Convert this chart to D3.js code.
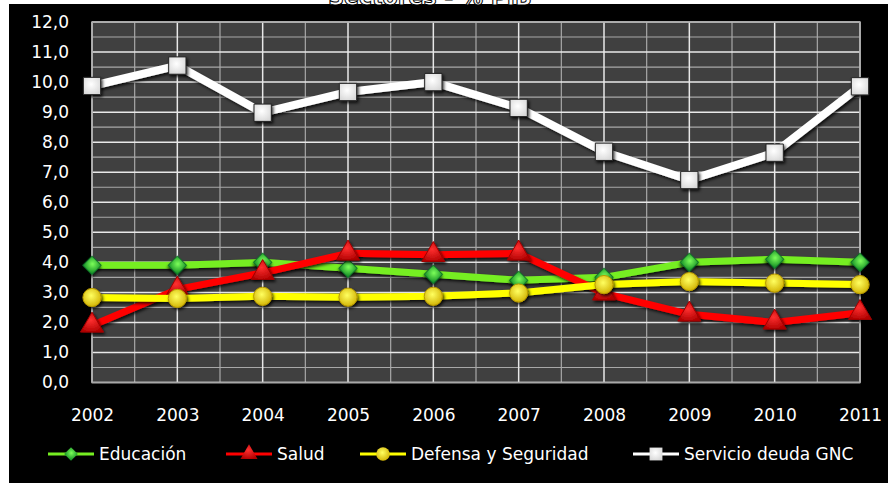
<!DOCTYPE html>
<html>
<head>
<meta charset="utf-8">
<script src="https://cdn.jsdelivr.net/npm/d3@7"></script>
<style>
  body { margin: 0; background: #fff; }
  svg text { font-family: "DejaVu Sans", sans-serif; }
</style>
</head>
<body>
<script>
var width = 888,
    height = 483;

var years = ["2002", "2003", "2004", "2005", "2006", "2007", "2008", "2009", "2010", "2011"];
var educacion = [3.9, 3.9, 4.0, 3.8, 3.6, 3.4, 3.5, 4.0, 4.1, 4.0];
var salud = [1.9, 3.1, 3.65, 4.3, 4.25, 4.3, 2.97, 2.27, 2.0, 2.32];
var defensa = [2.83, 2.8, 2.87, 2.84, 2.87, 2.98, 3.26, 3.36, 3.31, 3.26];
var servicio = [9.87, 10.55, 8.98, 9.67, 10.0, 9.14, 7.68, 6.74, 7.65, 9.86];
var yTicks = [0, 1, 2, 3, 4, 5, 6, 7, 8, 9, 10, 11, 12];

var series = [
    { name: "Educación", values: educacion, color: "#76ee22", shape: "diamond" },
    { name: "Salud", values: salud, color: "#ff0000", shape: "triangle" },
    { name: "Defensa y Seguridad", values: defensa, color: "#ffff00", shape: "circle" },
    { name: "Servicio deuda GNC", values: servicio, color: "#ffffff", shape: "square" }
];

var margin = { left: 92, right: 28, top: 22, bottom: 100 };

var x = d3.scalePoint()
    .domain(years)
    .range([margin.left, width - margin.right]);

var y = d3.scaleLinear()
    .domain([0, 12])
    .range([height - margin.bottom - 0.5, margin.top]);

var fmt = function (d) { return d3.format(".1f")(d).replace(".", ","); };

var svg = d3.select("body").append("svg")
    .attr("width", width)
    .attr("height", height);

var defs = svg.append("defs");

var shadow = defs.append("filter").attr("id", "shadow")
    .attr("x", "-50%").attr("y", "-50%").attr("width", "200%").attr("height", "200%");
shadow.append("feDropShadow")
    .attr("dx", 1.5).attr("dy", 2).attr("stdDeviation", 1.5)
    .attr("flood-color", "#000").attr("flood-opacity", 0.8);

// marker gradients
var grads = {
    diamond: ["#7dff5a", "#1e9a2a"],
    triangle: ["#ff3030", "#b00000"],
    circle: ["#ffff60", "#d0b000"],
    square: ["#ffffff", "#d8d8d8"]
};
Object.keys(grads).forEach(function (k) {
    var g = defs.append("radialGradient").attr("id", "g-" + k)
        .attr("cx", "45%").attr("cy", "40%").attr("r", "65%");
    g.append("stop").attr("offset", "0%").attr("stop-color", grads[k][0]);
    g.append("stop").attr("offset", "100%").attr("stop-color", grads[k][1]);
});

// background
svg.append("rect")
    .attr("x", 9).attr("y", 4)
    .attr("width", width - 9).attr("height", height - 4)
    .attr("fill", "#000");

// title, cut off at the top as in the source picture
svg.append("text")
    .attr("x", 430).attr("y", 5)
    .attr("text-anchor", "middle")
    .attr("font-size", 22)
    .attr("font-weight", "bold")
    .attr("fill", "#fff")
    .attr("stroke", "#000")
    .attr("stroke-width", 1)
    .text("Sectores - % PIB");

// plot area
svg.append("rect")
    .attr("x", margin.left).attr("y", margin.top)
    .attr("width", width - margin.left - margin.right)
    .attr("height", y(0) - margin.top)
    .attr("fill", "#404040");

var grid = svg.append("g");

// minor horizontal gridlines
grid.selectAll(".hminor")
    .data(d3.range(0.5, 12, 1))
    .enter().append("line")
    .attr("x1", margin.left).attr("x2", width - margin.right)
    .attr("y1", function (d) { return y(d); })
    .attr("y2", function (d) { return y(d); })
    .attr("stroke", "#a8a8a8").attr("stroke-width", 1.2);

// minor vertical gridlines
var step = x.step();
grid.selectAll(".vminor")
    .data(years.slice(1))
    .enter().append("line")
    .attr("x1", function (d) { return x(d) - step / 2; })
    .attr("x2", function (d) { return x(d) - step / 2; })
    .attr("y1", margin.top).attr("y2", y(0))
    .attr("stroke", "#a8a8a8").attr("stroke-width", 1.2);

// major horizontal
grid.selectAll(".hmajor")
    .data(yTicks)
    .enter().append("line")
    .attr("x1", margin.left).attr("x2", width - margin.right)
    .attr("y1", function (d) { return y(d); })
    .attr("y2", function (d) { return y(d); })
    .attr("stroke", "#e8e8e8").attr("stroke-width", 1.5);

// major vertical
grid.selectAll(".vmajor")
    .data(years)
    .enter().append("line")
    .attr("x1", function (d) { return x(d); })
    .attr("x2", function (d) { return x(d); })
    .attr("y1", margin.top).attr("y2", y(0))
    .attr("stroke", "#e8e8e8").attr("stroke-width", 1.5);

svg.append("rect")
    .attr("x", margin.left).attr("y", margin.top)
    .attr("width", width - margin.left - margin.right)
    .attr("height", y(0) - margin.top)
    .attr("fill", "none")
    .attr("stroke", "#a8a8a8").attr("stroke-width", 1.5);

// axes labels
var yAxis = d3.axisLeft(y).tickValues(yTicks).tickFormat(fmt).tickSize(0).tickPadding(23);
svg.append("g")
    .attr("transform", "translate(" + margin.left + ",0)")
    .call(yAxis)
    .call(function (g) { g.select(".domain").remove(); })
    .selectAll("text")
    .attr("fill", "#fff")
    .attr("font-size", 17)
    .attr("font-family", "DejaVu Sans, sans-serif");

var xAxis = d3.axisBottom(x).tickSize(0).tickPadding(26);
svg.append("g")
    .attr("transform", "translate(0," + y(0) + ")")
    .call(xAxis)
    .call(function (g) { g.select(".domain").remove(); })
    .selectAll("text")
    .attr("fill", "#fff")
    .attr("font-size", 17)
    .attr("font-family", "DejaVu Sans, sans-serif");

function symbolFor(shape, size) {
    var type = {
        diamond: d3.symbolSquare,
        triangle: d3.symbolTriangle,
        circle: d3.symbolCircle,
        square: d3.symbolSquare
    }[shape];
    return d3.symbol().type(type).size(size)();
}

var sizes = { diamond: 170, triangle: 230, circle: 260, square: 300 };
var strokes = { diamond: "#11702a", triangle: "#a00000", circle: "#b89a00", square: "#222" };
var rot = function (shape) { return shape === "diamond" ? " rotate(45)" : ""; };

var line = d3.line()
    .x(function (d, i) { return x(years[i]); })
    .y(function (d) { return y(d); });

series.forEach(function (s) {
    var g = svg.append("g");
    g.append("path")
        .datum(s.values)
        .attr("d", line)
        .attr("fill", "none")
        .attr("stroke", s.color)
        .attr("stroke-width", s.shape === "square" ? 8 : 7)
        .attr("stroke-linejoin", "round")
        .attr("filter", "url(#shadow)");

    g.selectAll(".pt")
        .data(s.values)
        .enter().append("path")
        .attr("transform", function (d, i) {
            return "translate(" + x(years[i]) + "," + y(d) + ")" + rot(s.shape);
        })
        .attr("d", symbolFor(s.shape, sizes[s.shape]))
        .attr("fill", "url(#g-" + s.shape + ")")
        .attr("stroke", strokes[s.shape])
        .attr("stroke-width", 1)
        .attr("filter", "url(#shadow)");
});

// legend
var legendX = [48, 226, 360, 633];
var legend = svg.append("g").attr("transform", "translate(0,454)");
series.forEach(function (s, i) {
    var lg = legend.append("g").attr("transform", "translate(" + legendX[i] + ",0)");
    lg.append("line")
        .attr("x1", 0).attr("x2", 46)
        .attr("stroke", s.color).attr("stroke-width", 3);
    lg.append("path")
        .attr("transform", "translate(23,0)" + rot(s.shape))
        .attr("d", symbolFor(s.shape, sizes[s.shape] * 0.55))
        .attr("fill", "url(#g-" + s.shape + ")");
    lg.append("text")
        .attr("x", 51).attr("y", 6)
        .attr("fill", "#fff")
        .attr("font-size", 17)
        .text(s.name);
});
</script>
</body>
</html>
